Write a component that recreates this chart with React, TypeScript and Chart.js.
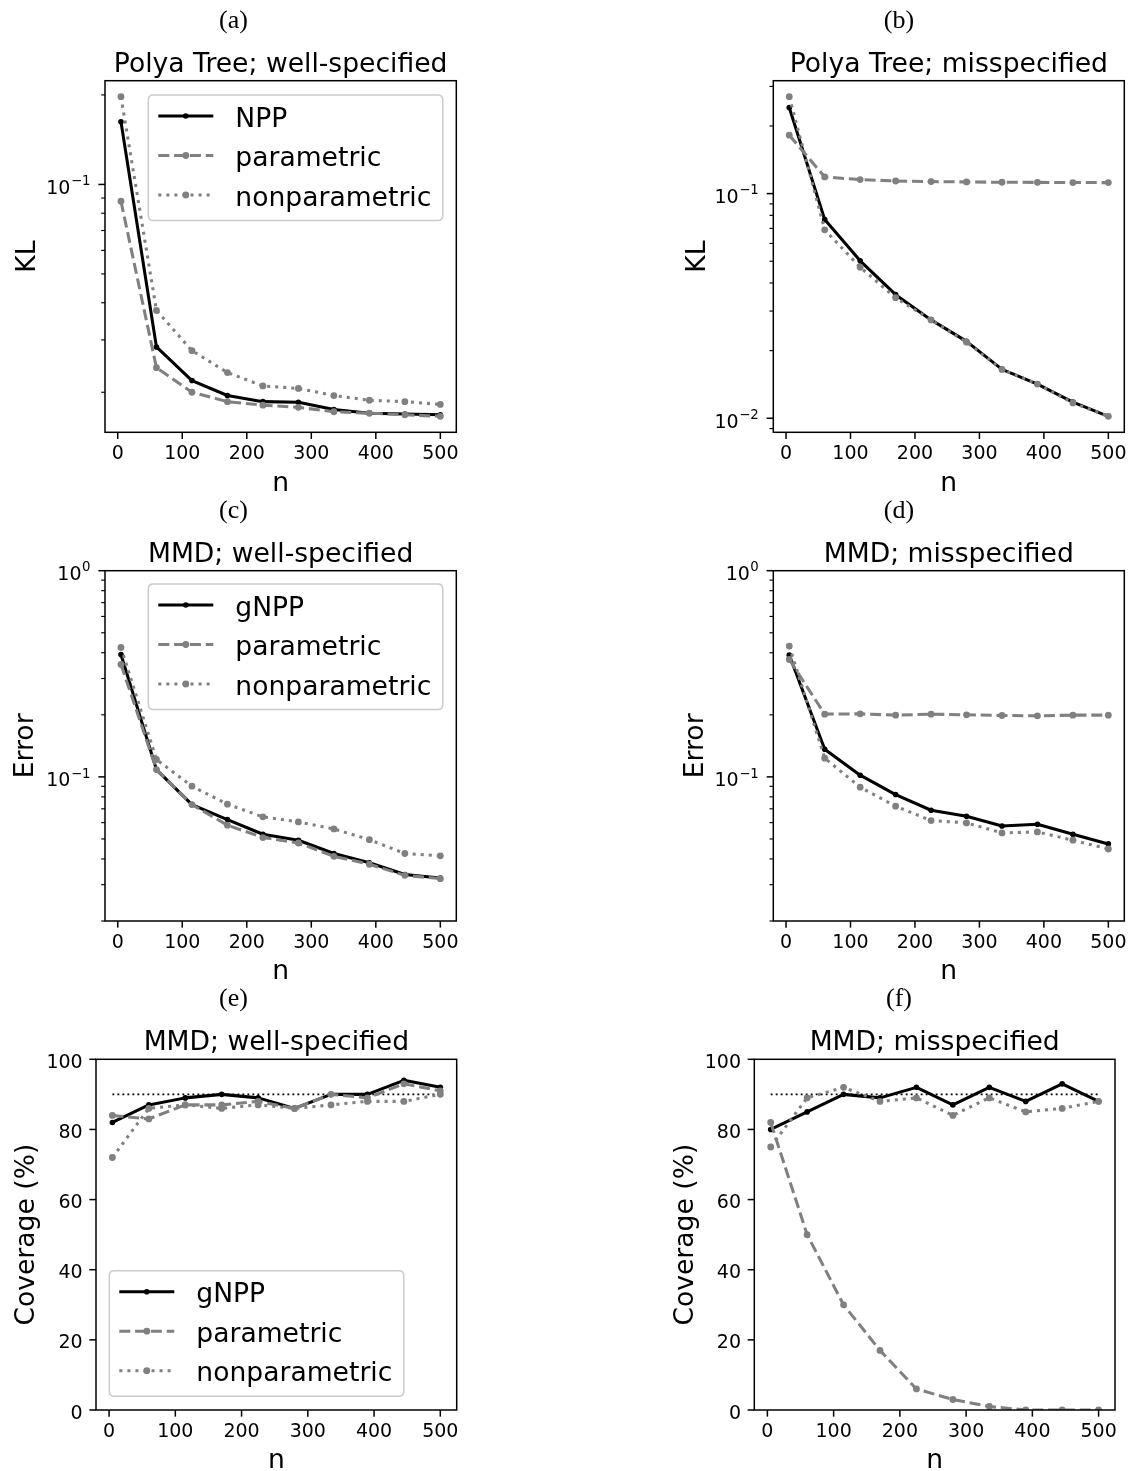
import React, { useEffect, useRef } from "react";
import { Chart, registerables } from "chart.js";

Chart.register(...registerables);

const W = 1133;
const H = 1471;
const FONT = '"DejaVu Sans", "Noto Sans", sans-serif';
const SERIF = '"Liberation Serif", "DejaVu Serif", serif';

// ---------- data ----------
const nValues = [5, 60, 115, 170, 225, 280, 335, 390, 445, 500];
const xTickValues = [0, 100, 200, 300, 400, 500];
const coverageTickValues = [0, 20, 40, 60, 80, 100];
const nominalCoverage = 90;

// (a) Polya Tree; well-specified (KL)
const polyaWellNPP = [0.1625, 0.0284, 0.0219, 0.0195, 0.0186, 0.0185, 0.0175, 0.017, 0.0169, 0.0168];
const polyaWellParametric = [0.0878, 0.0242, 0.02, 0.0186, 0.0181, 0.0178, 0.0172, 0.017, 0.0168, 0.0166];
const polyaWellNonparametric = [0.1973, 0.0377, 0.0276, 0.0233, 0.021, 0.0206, 0.0195, 0.0188, 0.0186, 0.0182];

// (b) Polya Tree; misspecified (KL)
const polyaMisNPP = [0.2415, 0.0766, 0.0502, 0.0355, 0.0274, 0.022, 0.0165, 0.0142, 0.0118, 0.0102];
const polyaMisParametric = [0.182, 0.1186, 0.1154, 0.1138, 0.1131, 0.1127, 0.1123, 0.1122, 0.112, 0.1119];
const polyaMisNonparametric = [0.27, 0.069, 0.047, 0.0344, 0.0274, 0.0218, 0.0165, 0.0142, 0.0117, 0.0102];

// (c) MMD; well-specified (Error)
const mmdWellGNPP = [0.3925, 0.1085, 0.0734, 0.0621, 0.0527, 0.0493, 0.0425, 0.0383, 0.0336, 0.0323];
const mmdWellParametric = [0.351, 0.1085, 0.0734, 0.0583, 0.0508, 0.0478, 0.0412, 0.0377, 0.0333, 0.0321];
const mmdWellNonparametric = [0.4245, 0.1214, 0.0901, 0.0737, 0.064, 0.0605, 0.0559, 0.0496, 0.0425, 0.0414];

// (d) MMD; misspecified (Error)
const mmdMisGNPP = [0.39, 0.1362, 0.1019, 0.0821, 0.0689, 0.0644, 0.0578, 0.0589, 0.0527, 0.0473];
const mmdMisParametric = [0.371, 0.2015, 0.2022, 0.1993, 0.2015, 0.2, 0.1985, 0.1978, 0.1993, 0.1993];
const mmdMisNonparametric = [0.4308, 0.1233, 0.0891, 0.0721, 0.0614, 0.0598, 0.0535, 0.0541, 0.0493, 0.0447];

// (e) MMD; well-specified (Coverage %)
const covWellGNPP = [82, 87, 89, 90, 89, 86, 90, 90, 94, 92];
const covWellParametric = [84, 83, 87, 87, 88, 86, 90, 89, 93, 91];
const covWellNonparametric = [72, 86, 87, 86, 87, 86, 87, 88, 88, 90];

// (f) MMD; misspecified (Coverage %)
const covMisGNPP = [80, 85, 90, 89, 92, 87, 92, 88, 93, 88];
const covMisParametric = [82, 50, 30, 17, 6, 3, 1, 0, 0, 0];
const covMisNonparametric = [75, 89, 92, 88, 89, 84, 89, 85, 86, 88];

// ---------- panel specs ----------
interface PanelSpec {
  tag: string;
  tagX: number;
  title: string;
  yLabel: string;
  yLabelX: number;
  mainLabel: string;
  main: number[];
  parametric: number[];
  nonparametric: number[];
  log: boolean;
  yMin?: number;
  yMax?: number;
  yMajor: number[];
  box: [number, number, number, number];
  legend?: [number, number];
  reference?: number;
}

function logRange(arrs: number[][]): [number, number] {
  const all = arrs.flat();
  const lo = Math.log10(Math.min(...all));
  const hi = Math.log10(Math.max(...all));
  const m = (hi - lo) * 0.05;
  return [Math.pow(10, lo - m), Math.pow(10, hi + m)];
}

const rangeA = logRange([polyaWellNPP, polyaWellParametric, polyaWellNonparametric]);
const rangeB = logRange([polyaMisNPP, polyaMisParametric, polyaMisNonparametric]);

const panels: PanelSpec[] = [
  {
    tag: "(a)", tagX: 233.5, title: "Polya Tree; well-specified", yLabel: "KL", yLabelX: 25,
    mainLabel: "NPP", main: polyaWellNPP, parametric: polyaWellParametric, nonparametric: polyaWellNonparametric,
    log: true, yMin: rangeA[0], yMax: rangeA[1], yMajor: [0.1],
    box: [105, 80.7, 456.3, 432.3], legend: [148.3, 95],
  },
  {
    tag: "(b)", tagX: 899, title: "Polya Tree; misspecified", yLabel: "KL", yLabelX: 695,
    mainLabel: "NPP", main: polyaMisNPP, parametric: polyaMisParametric, nonparametric: polyaMisNonparametric,
    log: true, yMin: rangeB[0], yMax: rangeB[1], yMajor: [0.01, 0.1],
    box: [773.3, 80.7, 1124.3, 432.3],
  },
  {
    tag: "(c)", tagX: 233.5, title: "MMD; well-specified", yLabel: "Error", yLabelX: 23,
    mainLabel: "gNPP", main: mmdWellGNPP, parametric: mmdWellParametric, nonparametric: mmdWellNonparametric,
    log: true, yMin: 0.02, yMax: 1, yMajor: [0.1, 1],
    box: [105, 570.7, 456.3, 921], legend: [148.3, 584],
  },
  {
    tag: "(d)", tagX: 899, title: "MMD; misspecified", yLabel: "Error", yLabelX: 693,
    mainLabel: "gNPP", main: mmdMisGNPP, parametric: mmdMisParametric, nonparametric: mmdMisNonparametric,
    log: true, yMin: 0.02, yMax: 1, yMajor: [0.1, 1],
    box: [773.3, 570.7, 1124.3, 921],
  },
  {
    tag: "(e)", tagX: 233.5, title: "MMD; well-specified", yLabel: "Coverage (%)", yLabelX: 24,
    mainLabel: "gNPP", main: covWellGNPP, parametric: covWellParametric, nonparametric: covWellNonparametric,
    log: false, yMin: 0, yMax: 100, yMajor: coverageTickValues,
    box: [96, 1059.3, 456.7, 1410], legend: [109.3, 1270.7], reference: nominalCoverage,
  },
  {
    tag: "(f)", tagX: 899, title: "MMD; misspecified", yLabel: "Coverage (%)", yLabelX: 683.5,
    mainLabel: "gNPP", main: covMisGNPP, parametric: covMisParametric, nonparametric: covMisNonparametric,
    log: false, yMin: 0, yMax: 100, yMajor: coverageTickValues,
    box: [754.3, 1059.3, 1115, 1410], reference: nominalCoverage,
  },
];

const GRAY = "#808080";
const LW = 3.05;
const DASHED = [11, 4.8];
const DOTTED = [3.05, 5];

function series(label: string, arr: number[], kind: "solid" | "dashed" | "dotted", order: number) {
  const color = kind === "solid" ? "#000000" : GRAY;
  return {
    label,
    data: nValues.map((x, i) => ({ x, y: arr[i] })),
    borderColor: color,
    backgroundColor: color,
    pointBackgroundColor: color,
    pointBorderColor: color,
    pointBorderWidth: 0,
    pointRadius: kind === "solid" ? 2.8 : 3.4,
    pointHoverRadius: 0,
    borderWidth: LW,
    borderDash: kind === "dashed" ? DASHED : kind === "dotted" ? DOTTED : [],
    borderCapStyle: "butt",
    borderJoinStyle: "round",
    tension: 0,
    fill: false,
    order,
    isReference: false,
  };
}

function roundRectPath(ctx: CanvasRenderingContext2D, x: number, y: number, w: number, h: number, r: number) {
  ctx.beginPath();
  ctx.moveTo(x + r, y);
  ctx.lineTo(x + w - r, y);
  ctx.quadraticCurveTo(x + w, y, x + w, y + r);
  ctx.lineTo(x + w, y + h - r);
  ctx.quadraticCurveTo(x + w, y + h, x + w - r, y + h);
  ctx.lineTo(x + r, y + h);
  ctx.quadraticCurveTo(x, y + h, x, y + h - r);
  ctx.lineTo(x, y + r);
  ctx.quadraticCurveTo(x, y, x + r, y);
  ctx.closePath();
}

function makeDecorPlugin(p: PanelSpec) {
  return {
    id: "decor",
    afterDatasetsDraw(chart: any) {
      const ctx = chart.ctx as CanvasRenderingContext2D;
      const { left, right, top, bottom } = chart.chartArea;
      const xs = chart.scales.x;
      const ys = chart.scales.y;
      ctx.save();
      ctx.fillStyle = "#000";
      ctx.strokeStyle = "#000";
      ctx.setLineDash([]);
      ctx.lineCap = "butt";

      // x ticks
      ctx.lineWidth = 1.5;
      ctx.font = `19px ${FONT}`;
      ctx.textAlign = "center";
      ctx.textBaseline = "alphabetic";
      for (const v of xTickValues) {
        const x = xs.getPixelForValue(v);
        ctx.beginPath();
        ctx.moveTo(x, bottom);
        ctx.lineTo(x, bottom + 6.65);
        ctx.stroke();
        ctx.fillText(String(v), x, bottom + 27);
      }

      // y ticks
      if (p.log) {
        const lo = Math.floor(Math.log10(ys.min));
        const hi = Math.ceil(Math.log10(ys.max));
        ctx.lineWidth = 1.14;
        for (let e = lo; e <= hi; e++) {
          for (let k = 2; k <= 9; k++) {
            const v = k * Math.pow(10, e);
            if (v >= ys.min && v <= ys.max) {
              const y = ys.getPixelForValue(v);
              ctx.beginPath();
              ctx.moveTo(left - 3.8, y);
              ctx.lineTo(left, y);
              ctx.stroke();
            }
          }
        }
        ctx.lineWidth = 1.5;
        for (const v of p.yMajor) {
          const y = ys.getPixelForValue(v);
          ctx.beginPath();
          ctx.moveTo(left - 6.65, y);
          ctx.lineTo(left, y);
          ctx.stroke();
          const e = Math.round(Math.log10(v));
          const sup = e < 0 ? "\u2212" + String(-e) : String(e);
          const xr = left - 14.5;
          ctx.textAlign = "right";
          ctx.font = `13.3px ${FONT}`;
          const ws = ctx.measureText(sup).width;
          ctx.fillText(sup, xr, y + 9.3 - 8.6);
          ctx.font = `19px ${FONT}`;
          ctx.fillText("10", xr - ws - 0.5, y + 9.3);
        }
      } else {
        ctx.lineWidth = 1.5;
        ctx.font = `19px ${FONT}`;
        ctx.textAlign = "right";
        for (const v of p.yMajor) {
          const y = ys.getPixelForValue(v);
          ctx.beginPath();
          ctx.moveTo(left - 6.65, y);
          ctx.lineTo(left, y);
          ctx.stroke();
          ctx.fillText(String(v), left - 13.3, y + 8.5);
        }
      }

      // spines
      ctx.lineWidth = 1.5;
      ctx.strokeRect(left, top, right - left, bottom - top);

      // labels
      const cx = (left + right) / 2;
      const cy = (top + bottom) / 2;
      ctx.font = `26.6px ${FONT}`;
      ctx.textAlign = "center";
      ctx.textBaseline = "alphabetic";
      ctx.fillText(p.title, cx, top - 9);
      ctx.fillText("n", cx, bottom + 58.3);
      ctx.save();
      ctx.translate(p.yLabelX + 9.7, cy);
      ctx.rotate(-Math.PI / 2);
      ctx.fillText(p.yLabel, 0, 0);
      ctx.restore();

      ctx.font = `26px ${SERIF}`;
      ctx.fillText(p.tag, p.tagX, top - 53.2);

      // legend
      if (p.legend) {
        const [lx, ly] = p.legend;
        const lw = 294.5;
        const lh = 125.5;
        roundRectPath(ctx, lx, ly, lw, lh, 5);
        ctx.fillStyle = "rgba(255,255,255,0.8)";
        ctx.fill();
        ctx.strokeStyle = "#cccccc";
        ctx.lineWidth = 1.5;
        ctx.stroke();
        const items = chart.data.datasets.filter((d: any) => !d.isReference);
        items.forEach((d: any, i: number) => {
          const ry = ly + 21 + i * 39.5;
          ctx.strokeStyle = d.borderColor;
          ctx.lineWidth = d.borderWidth;
          ctx.setLineDash(d.borderDash || []);
          ctx.beginPath();
          ctx.moveTo(lx + 10, ry);
          ctx.lineTo(lx + 65, ry);
          ctx.stroke();
          ctx.setLineDash([]);
          ctx.fillStyle = d.pointBackgroundColor;
          ctx.beginPath();
          ctx.arc(lx + 37.5, ry, d.pointRadius, 0, Math.PI * 2);
          ctx.fill();
          ctx.fillStyle = "#000";
          ctx.font = `26.6px ${FONT}`;
          ctx.textAlign = "left";
          ctx.fillText(d.label, lx + 87, ry + 10.5);
        });
      }
      ctx.restore();
    },
  };
}

function PanelChart({ spec }: { spec: PanelSpec }) {
  const ref = useRef<HTMLCanvasElement>(null);
  useEffect(() => {
    const canvas = ref.current;
    if (!canvas) return;
    const [l, t, r, b] = spec.box;
    const datasets: any[] = [];
    if (spec.reference !== undefined) {
      datasets.push({
        label: "nominal",
        data: [
          { x: nValues[0], y: spec.reference },
          { x: nValues[nValues.length - 1], y: spec.reference },
        ],
        borderColor: "#000",
        borderWidth: 1.9,
        borderDash: [1.9, 3.1],
        borderCapStyle: "butt",
        pointRadius: 0,
        pointHoverRadius: 0,
        fill: false,
        order: 10,
        isReference: true,
      });
    }
    datasets.push(series(spec.mainLabel, spec.main, "solid", 3));
    datasets.push(series("parametric", spec.parametric, "dashed", 2));
    datasets.push(series("nonparametric", spec.nonparametric, "dotted", 1));

    const hidden = { display: false, ticks: { display: false }, grid: { display: false }, border: { display: false } };
    const chart = new Chart(canvas, {
      type: "line",
      data: { datasets },
      options: {
        responsive: false,
        maintainAspectRatio: false,
        animation: false,
        devicePixelRatio: 1,
        events: [],
        layout: { padding: { left: l, top: t, right: W - r, bottom: H - b } },
        plugins: {
          legend: { display: false },
          title: { display: false },
          tooltip: { enabled: false },
        },
        scales: {
          x: { type: "linear", min: -19.75, max: 524.75, ...hidden },
          y: { type: spec.log ? "logarithmic" : "linear", min: spec.yMin, max: spec.yMax, ...hidden },
        },
      } as any,
      plugins: [makeDecorPlugin(spec)],
    } as any);
    return () => chart.destroy();
  }, [spec]);
  return (
    <canvas
      ref={ref}
      width={W}
      height={H}
      style={{ position: "absolute", left: 0, top: 0, width: W, height: H }}
    />
  );
}

export default function App() {
  return (
    <div style={{ position: "absolute", left: 0, top: 0, width: W, height: H, background: "#ffffff" }}>
      {panels.map((p) => (
        <PanelChart key={p.tag} spec={p} />
      ))}
    </div>
  );
}
